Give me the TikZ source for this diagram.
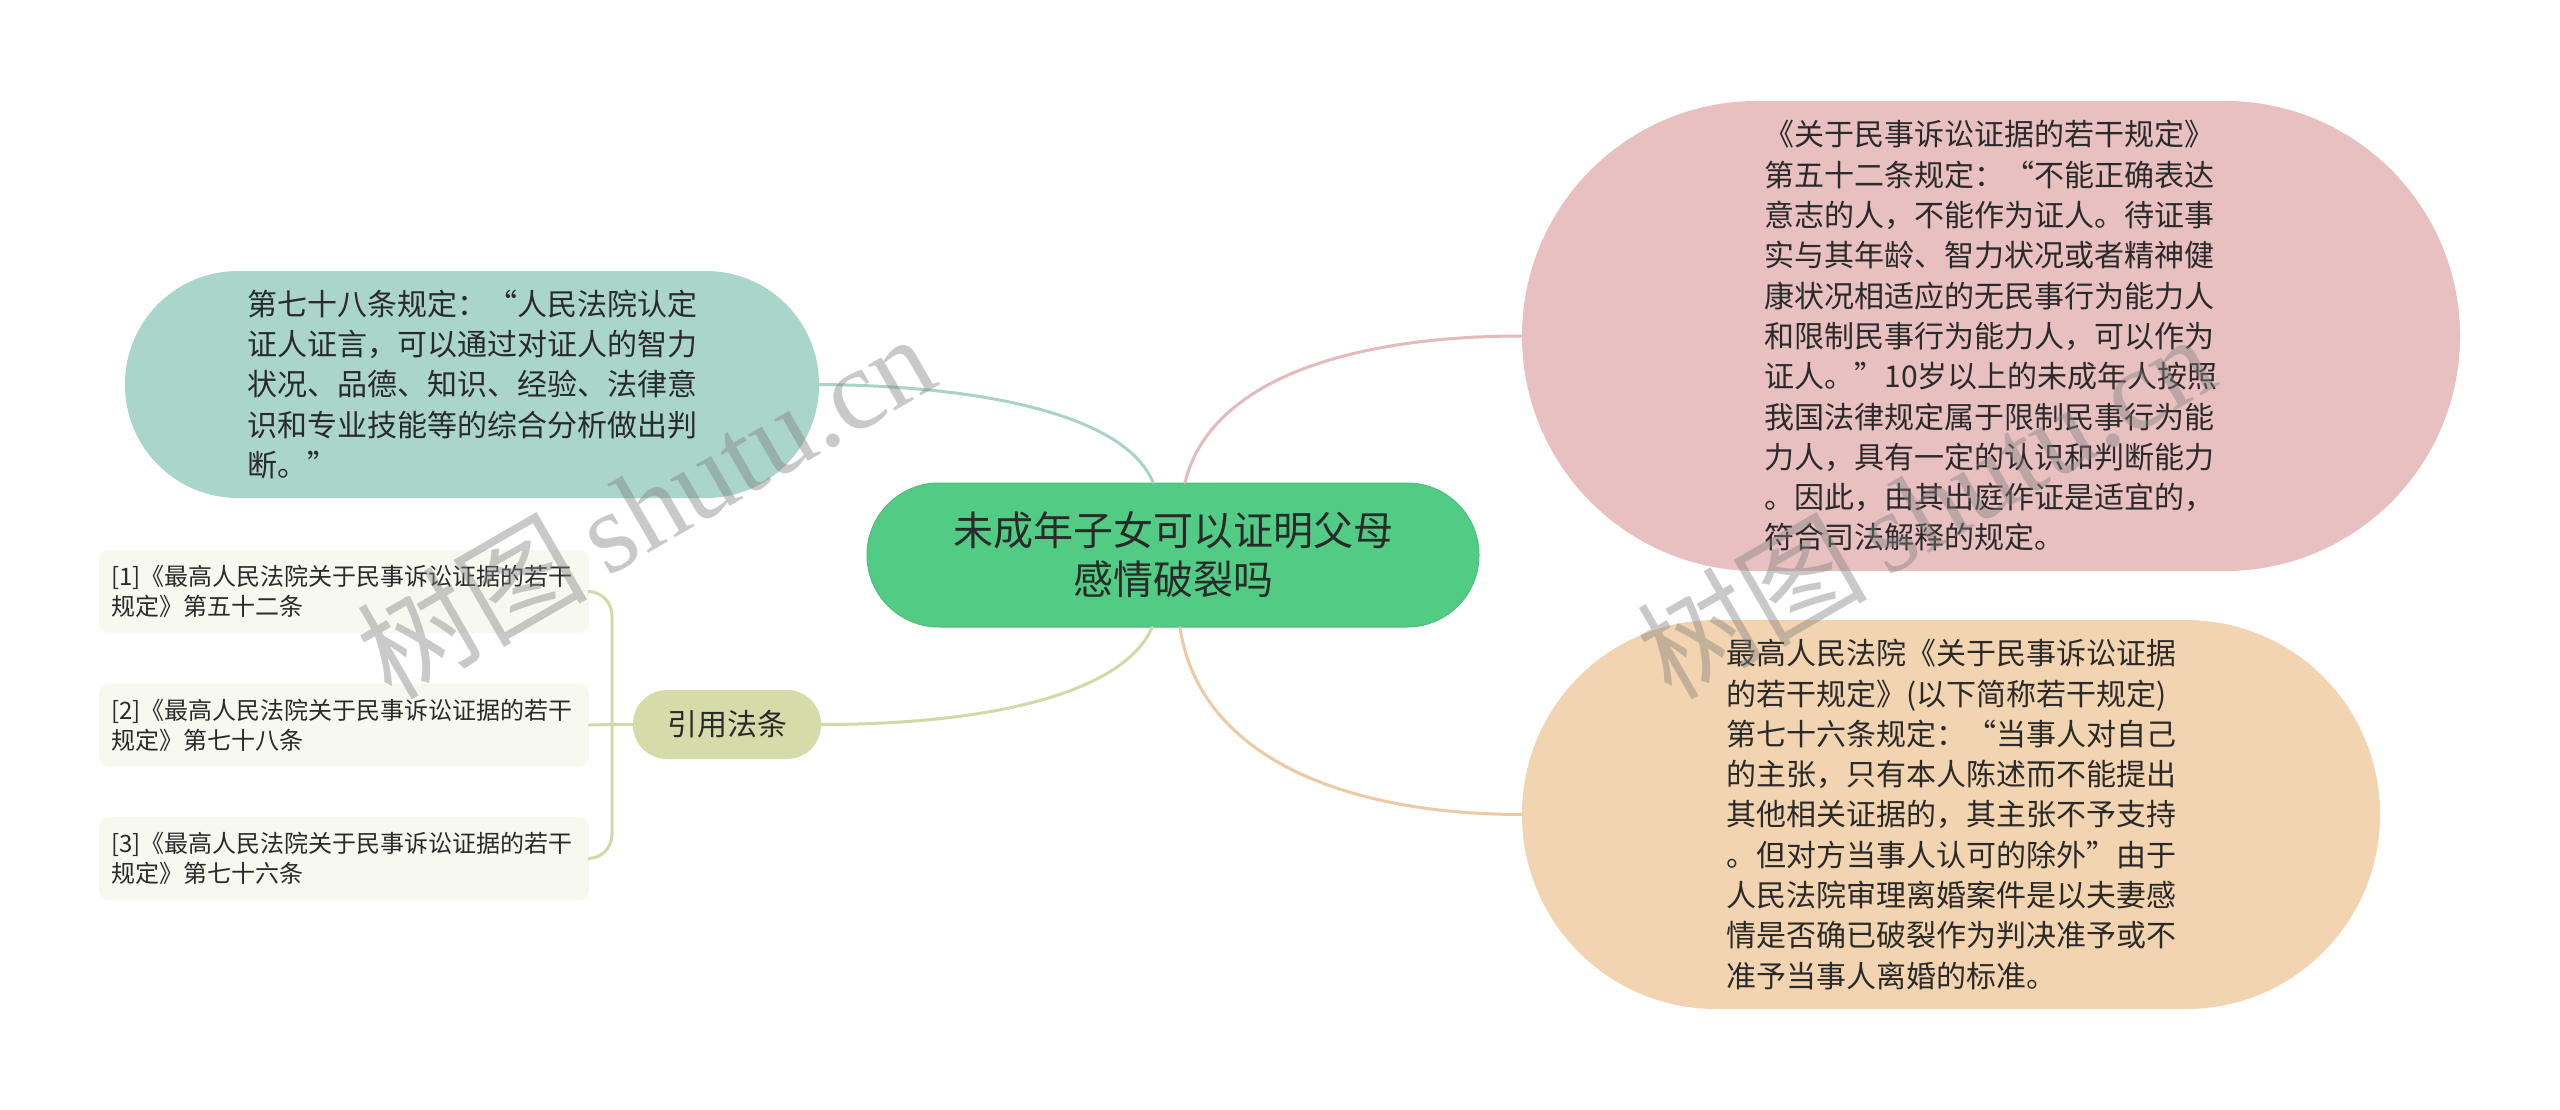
\documentclass[tikz,border=0pt]{standalone}
\usepackage{fontspec}
\setmainfont{Noto Sans CJK SC}
\newfontfamily\cjkfont{Noto Sans CJK SC}
\newfontfamily\wmfont{Liberation Serif}
\definecolor{cgreen}{HTML}{52CC85}
\definecolor{cgreenb}{HTML}{4CBF7C}
\definecolor{cteal}{HTML}{A9D5CA}
\definecolor{cpink}{HTML}{E8C0C0}
\definecolor{corange}{HTML}{F2D4B0}
\definecolor{cyy}{HTML}{D6DBAA}
\definecolor{cbox}{HTML}{F7F8F0}
\definecolor{lteal}{HTML}{A8D3C8}
\definecolor{lpink}{HTML}{E4BABA}
\definecolor{lorange}{HTML}{EECAA4}
\definecolor{lyy}{HTML}{D3D9A6}
\definecolor{ctext}{HTML}{2A2A2A}
\begin{document}
\begin{tikzpicture}[x=1pt,y=-1pt,
  bubble/.style={fill=#1, text=ctext, inner sep=0pt, align=left,
    font=\fontsize{30}{40.3}\selectfont},
  refbox/.style={fill=cbox, text=ctext, rounded corners=10, inner xsep=12pt,
    inner ysep=0pt, text width=466pt, minimum height=83pt, align=left,
    font=\fontsize{24}{30}\selectfont},
  conn/.style={line width=3pt, line cap=round},
  wm/.style={text=gray, opacity=0.42, inner sep=0pt}]
\useasboundingbox (0,0) rectangle (2560,1110);
\fill[white] (0,0) rectangle (2560,1110);

% main topic
\node[fill=cgreen, draw=cgreenb, line width=1pt, text=ctext, rounded corners=72,
  minimum width=612pt, minimum height=144pt, inner sep=0pt, align=center,
  font=\fontsize{40}{49}\selectfont] (c) at (1173,555)
  {未成年子女可以证明父母\\感情破裂吗};

% branches
\node[bubble=cteal, minimum width=694pt, minimum height=227pt, rounded corners=113]
  (teal) at (472,384.5)
  {第七十八条规定：“人民法院认定\\证人证言，可以通过对证人的智力\\状况、品德、知识、经验、法律意\\识和专业技能等的综合分析做出判\\断。”};

\node[bubble=cpink, minimum width=938pt, minimum height=470pt, rounded corners=235]
  (pink) at (1991,336)
  {《关于民事诉讼证据的若干规定》\\第五十二条规定：“不能正确表达\\意志的人，不能作为证人。待证事\\实与其年龄、智力状况或者精神健\\康状况相适应的无民事行为能力人\\和限制民事行为能力人，可以作为\\证人。”10岁以上的未成年人按照\\我国法律规定属于限制民事行为能\\力人，具有一定的认识和判断能力\\。因此，由其出庭作证是适宜的，\\符合司法解释的规定。};

\node[bubble=corange, minimum width=858pt, minimum height=389pt, rounded corners=194]
  (orange) at (1951,814.5)
  {最高人民法院《关于民事诉讼证据\\的若干规定》(以下简称若干规定)\\第七十六条规定：“当事人对自己\\的主张，只有本人陈述而不能提出\\其他相关证据的，其主张不予支持\\。但对方当事人认可的除外”由于\\人民法院审理离婚案件是以夫妻感\\情是否确已破裂作为判决准予或不\\准予当事人离婚的标准。};

\node[fill=cyy, text=ctext, rounded corners=34, minimum width=188pt,
  minimum height=69pt, inner sep=0pt, font=\fontsize{30}{36}\selectfont]
  (yy) at (727,724.5) {引用法条};

\node[refbox] (r1) at (344,591.5) {[1]《最高人民法院关于民事诉讼证据的若干\\规定》第五十二条};
\node[refbox] (r2) at (344,725) {[2]《最高人民法院关于民事诉讼证据的若干\\规定》第七十八条};
\node[refbox] (r3) at (344,858.5) {[3]《最高人民法院关于民事诉讼证据的若干\\规定》第七十六条};

% connectors
\draw[conn, draw=lteal] ([xshift=-20pt]c.north) .. controls (1128,420) and (1000,386) .. (teal.east);
\draw[conn, draw=lpink] ([xshift=12pt]c.north) .. controls (1210,380) and (1350,336) .. (pink.west);
\draw[conn, draw=lorange] ([xshift=7pt]c.south) .. controls (1200,760) and (1350,814.5) .. (orange.west);
\draw[conn, draw=lyy] ([xshift=-21pt]c.south) .. controls (1125,690) and (1000,724.5) .. (yy.east);

\coordinate (bx) at (612,724.5);
\draw[conn, draw=lyy] (yy.west) -- (bx);
\draw[conn, draw=lyy, rounded corners=24pt] (r1.east) -- (r1.east -| bx) -- (bx);
\draw[conn, draw=lyy, rounded corners=24pt] (r3.east) -- (r3.east -| bx) -- (bx);
\draw[conn, draw=lyy] (r2.east) -- (bx);

% watermarks
\node[wm, rotate=30, font=\fontsize{115}{115}\selectfont] (wm1) at (645,505)
  {\cjkfont 树图\,\wmfont shutu.cn};
\node[wm, rotate=30, font=\fontsize{115}{115}\selectfont] (wm2) at (1925,505)
  {\cjkfont 树图\,\wmfont shutu.cn};
\end{tikzpicture}
\end{document}
